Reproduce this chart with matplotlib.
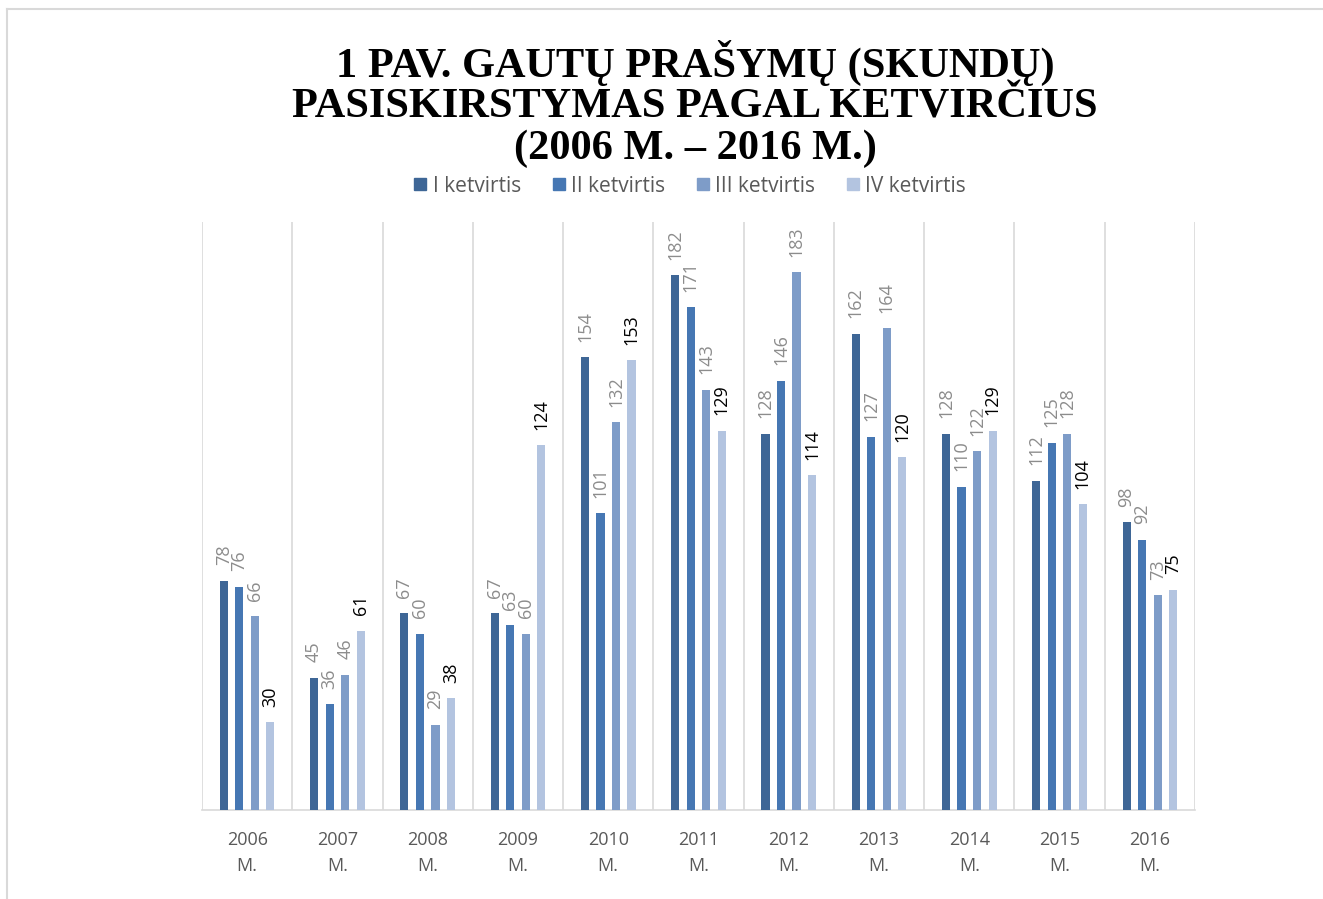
import numpy as np
import matplotlib
matplotlib.use("Agg")
from matplotlib import pyplot as plt
from matplotlib.lines import Line2D

years = ["2006", "2007", "2008", "2009", "2010", "2011", "2012", "2013", "2014", "2015", "2016"]
x_labels = [f"{y}\nM." for y in years]
series_names = ["I ketvirtis", "II ketvirtis", "III ketvirtis", "IV ketvirtis"]
q1 = [78, 45, 67, 67, 154, 182, 128, 162, 128, 112, 98]
q2 = [76, 36, 60, 63, 101, 171, 146, 127, 110, 125, 92]
q3 = [66, 46, 29, 60, 132, 143, 183, 164, 122, 128, 73]
q4 = [30, 61, 38, 124, 153, 129, 114, 120, 129, 104, 75]
title = "1 PAV. GAUTŲ PRAŠYMŲ (SKUNDŲ)\nPASISKIRSTYMAS PAGAL KETVIRČIUS\n(2006 M. – 2016 M.)"

colors = ["#3e6696", "#4677b3", "#7e9cc8", "#b3c4e0"]
label_colors = ["#8c8c8c", "#8c8c8c", "#8c8c8c", "#000000"]

fig = plt.figure(figsize=(13.23, 8.99), dpi=100)
ax = fig.add_axes([202 / 1323, 1 - 810 / 899, (1195 - 202) / 1323, (810 - 222) / 899])

x = np.arange(len(years))
bw = 0.09
step = 0.172
for i, (vals, c, lc) in enumerate(zip([q1, q2, q3, q4], colors, label_colors)):
    pos = x + (i - 1.5) * step
    ax.bar(pos, vals, width=bw, color=c, zorder=3)
    for p, v in zip(pos, vals):
        ax.annotate(str(v), (p, v), xytext=(0, 11), textcoords="offset points",
                    rotation=90, ha="center", va="bottom", fontsize=13,
                    color=lc, family="Open Sans")

ax.set_xlim(-0.5, len(years) - 0.5)
ax.set_ylim(0, 200)
ax.set_yticks([])
ax.set_xticks(x)
ax.set_xticklabels(x_labels, fontsize=13, color="#595959", family="Open Sans", linespacing=1.55)
ax.tick_params(axis="x", length=0, pad=15)
for b in np.arange(-0.5, len(years), 1.0):
    ax.axvline(b, color="#d9d9d9", lw=1.2, zorder=1)
for s in ["top", "right", "left"]:
    ax.spines[s].set_visible(False)
ax.spines["bottom"].set_color("#d9d9d9")
ax.spines["bottom"].set_linewidth(1.2)

fig.text(695 / 1323, 1 - 104 / 899, title, ha="center", va="center", fontsize=30.5,
         fontweight="bold", family="Liberation Serif", linespacing=1.08)

handles = [Line2D([], [], marker="s", ls="", markersize=9, color=c) for c in colors]
fig.legend(handles, series_names, loc="center", bbox_to_anchor=(690 / 1323, 1 - 186 / 899),
           ncol=4, frameon=False, labelcolor="#595959",
           handlelength=0.6, handletextpad=0.3, columnspacing=1.5,
           prop={"family": "Open Sans", "size": 15})

# outer border like the original figure frame
fig.add_artist(Line2D([7 / 1323, 7 / 1323], [0, 1 - 9 / 899], color="#d9d9d9", lw=1.5))
fig.add_artist(Line2D([7 / 1323, 1], [1 - 9 / 899, 1 - 9 / 899], color="#d9d9d9", lw=1.5))

plt.savefig("out.png", dpi=100)
